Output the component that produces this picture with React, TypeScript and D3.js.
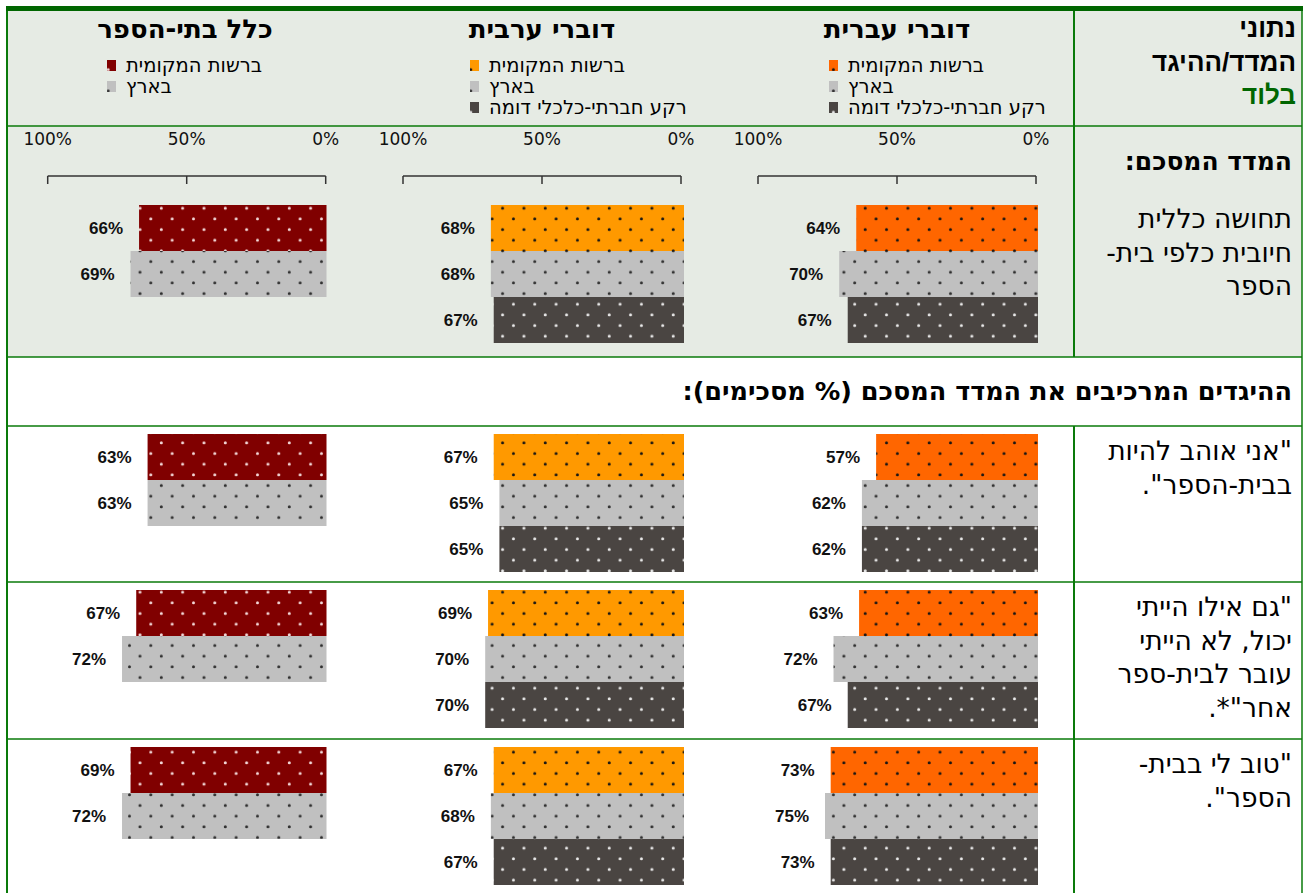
import * as d3 from "d3";

// chart values
const columnTitles = ["דוברי עברית", "דוברי ערבית", "כלל בתי-הספר"];
const seriesNames = ["ברשות המקומית", "בארץ", "רקע חברתי-כלכלי דומה"];
const hebrewValues = [
    [64, 70, 67],
    [57, 62, 62],
    [63, 72, 67],
    [73, 75, 73],
];
const arabicValues = [
    [68, 68, 67],
    [67, 65, 65],
    [69, 70, 70],
    [67, 68, 67],
];
const allSchoolsValues = [
    [66, 69],
    [63, 63],
    [67, 72],
    [69, 72],
];
const axisTicks = [0, 50, 100];
const rowLabels = [
    ["תחושה כללית", "חיובית כלפי בית-", "הספר"],
    ['"אני אוהב להיות', 'בבית-הספר".'],
    ['"גם אילו הייתי', "יכול, לא הייתי", "עובר לבית-ספר", 'אחר"*.'],
    ['"טוב לי בבית-', 'הספר".'],
];

const localColors = ["#FF6600", "#FF9900", "#800000"];
const countryColor = "#C0C0C0";
const similarColor = "#4A4542";
const green = "#0A7A0A";
const panelBg = "#E6EBE4";

const columns = [
    { values: hebrewValues, barZero: 1038, axisZero: 1036, center: 897, legendX: 829 },
    { values: arabicValues, barZero: 684, axisZero: 681, center: 542, legendX: 470 },
    { values: allSchoolsValues, barZero: 326.5, axisZero: 325.7, center: 185, legendX: 107 },
];

const rowTops = [126, 426, 582, 739];
const barTops = [205, 434, 590, 747];
const BAR_H = 46;

const fontReg = "'DejaVu Sans', sans-serif";
const fontNum = "'Liberation Sans', Arial, sans-serif";

function patternId(color: string) {
    return "dots" + color.replace("#", "");
}

function DotPattern({ color, dot }: { color: string; dot: string }) {
    const s = 21.33;
    return (
        <pattern id={patternId(color)} width={s} height={s} patternUnits="userSpaceOnUse">
            <rect width={s} height={s} fill={color} />
            <circle cx={12} cy={16.3} r={1.5} fill={dot} />
            <circle cx={1.5} cy={5.6} r={1.5} fill={dot} />
        </pattern>
    );
}

export default function App() {
    const seriesColors = (ci: number) => [localColors[ci], countryColor, similarColor];
    const band = d3.scaleBand<number>().domain([0, 1, 2]).range([0, BAR_H * 3]).padding(0);

    return (
        <svg
            width={1309}
            height={893}
            style={{ position: "absolute", left: 0, top: 0, background: "#fff" }}
        >
            <defs>
                <DotPattern color="#FF6600" dot="#141414" />
                <DotPattern color="#FF9900" dot="#141414" />
                <DotPattern color="#800000" dot="#f4dcdc" />
                <DotPattern color={countryColor} dot="#2e2e2e" />
                <DotPattern color={similarColor} dot="#ececec" />
            </defs>

            {/* shaded header + summary area */}
            <rect x={7} y={11} width={1295} height={346} fill={panelBg} />
            <rect x={6} y={6} width={1297} height={5} fill="#006600" />

            {/* table lines */}
            {[126, 357, 426, 582, 739].map((y) => (
                <line key={y} x1={7} x2={1302} y1={y} y2={y} stroke={green} strokeWidth={1.5} />
            ))}
            <line x1={7} x2={7} y1={11} y2={893} stroke={green} strokeWidth={2} />
            <line x1={1302} x2={1302} y1={11} y2={893} stroke={green} strokeWidth={1.5} />
            <line x1={1074} x2={1074} y1={11} y2={357} stroke={green} strokeWidth={2} />
            <line x1={1074} x2={1074} y1={426} y2={893} stroke={green} strokeWidth={2} />

            {/* header of the label column */}
            <g fontFamily={fontNum} fontWeight="bold" fontSize={26} direction="rtl" textAnchor="start">
                <text x={1296} y={37}>נתוני</text>
                <text x={1296} y={71}>המדד/ההיגד</text>
                <text x={1296} y={104} fill="#006600">בלוד</text>
            </g>

            {/* row labels */}
            <text x={1292} y={170} fontFamily={fontReg} fontWeight="bold" fontSize={25} direction="rtl" textAnchor="start">
                המדד המסכם:
            </text>
            {rowLabels.map((lines, ri) => {
                const first = ri === 0 ? 228 : rowTops[ri] + 34;
                return lines.map((t, li) => (
                    <text key={ri + "-" + li} x={1292} y={first + li * 33.5} fontFamily={fontReg} fontSize={26.5} direction="rtl" textAnchor="start">
                        {t}
                    </text>
                ));
            })}

            {/* section title */}
            <text x={1292} y={400} fontFamily={fontReg} fontWeight="bold" fontSize={25.5} direction="rtl" textAnchor="start">
                ההיגדים המרכיבים את המדד המסכם (% מסכימים):
            </text>

            {columns.map((col, ci) => {
                const colors = seriesColors(ci);
                const nSeries = col.values[0].length;
                const xAxis = d3.scaleLinear().domain([0, 100]).range([col.axisZero, col.axisZero - 278]);
                const xBar = d3.scaleLinear().domain([0, 100]).range([col.barZero, col.barZero - 284]);
                return (
                    <g key={ci}>
                        <text x={col.center} y={38} fontFamily={fontReg} fontWeight="bold" fontSize={26} textAnchor="middle" direction="rtl">
                            {columnTitles[ci]}
                        </text>
                        {/* legend */}
                        {seriesNames.slice(0, nSeries).map((name, si) => {
                            const base = 72 + si * 21;
                            return (
                                <g key={si}>
                                    <rect x={col.legendX} y={base - 12} width={9} height={11} fill={`url(#${patternId(colors[si])})`} />
                                    <text x={col.legendX + 19} y={base} fontFamily={fontReg} fontSize={19.5} direction="rtl" textAnchor="end">
                                        {name}
                                    </text>
                                </g>
                            );
                        })}
                        {/* axis */}
                        <g stroke="#333" strokeWidth={1.5} fill="none">
                            <line x1={xAxis(100)} x2={xAxis(0)} y1={176} y2={176} />
                            {axisTicks.map((t) => (
                                <line key={t} x1={xAxis(t)} x2={xAxis(t)} y1={176} y2={184} />
                            ))}
                        </g>
                        {axisTicks.map((t) => (
                            <text key={t} x={xAxis(t)} y={145} fontFamily={fontReg} fontSize={17} textAnchor="middle" fill="#111">
                                {t + "%"}
                            </text>
                        ))}
                        {/* bars */}
                        {col.values.map((row, ri) =>
                            row.map((v, si) => {
                                const y = barTops[ri] + (band(si) as number);
                                return (
                                    <g key={ri + "-" + si}>
                                        <rect
                                            x={xBar(v)}
                                            y={y}
                                            width={xBar(0) - xBar(v)}
                                            height={band.bandwidth()}
                                            fill={`url(#${patternId(colors[si])})`}
                                        />
                                        <text
                                            x={xBar(v) - 16}
                                            y={y + band.bandwidth() / 2}
                                            dy="0.35em"
                                            fontFamily={fontNum}
                                            fontWeight="bold"
                                            fontSize={17}
                                            textAnchor="end"
                                            fill="#111"
                                        >
                                            {v + "%"}
                                        </text>
                                    </g>
                                );
                            })
                        )}
                    </g>
                );
            })}
        </svg>
    );
}
